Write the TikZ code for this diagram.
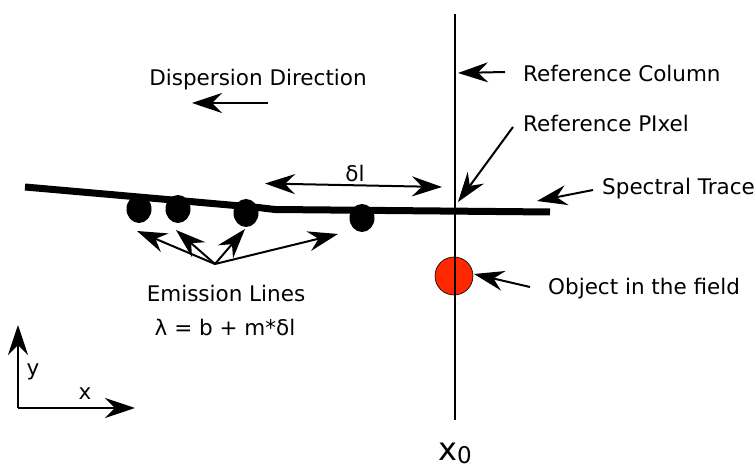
\documentclass[tikz,border=0pt]{standalone}
\usepackage{fontspec}
\setmainfont{DejaVu Sans}
\usetikzlibrary{arrows.meta}
\definecolor{objred}{RGB}{255,40,0}
\begin{document}
\begin{tikzpicture}[x=1pt,y=-1pt,
  lbl/.style={font=\fontsize{21.5}{25}\selectfont, inner sep=0pt},
  tip/.tip={Stealth[length=30pt,width=20pt,inset=10pt]},
  arr/.style={line width=2pt, -tip},
  darr/.style={line width=2pt, tip-tip},
  thin line/.style={line width=2pt}]
\useasboundingbox (0,0) rectangle (756,470);

% coordinates
\coordinate (ctop) at (455,14);
\coordinate (cbot) at (455,420);
\coordinate (t0) at (25,187);
\coordinate (t1) at (258,207.5);
\coordinate (t2) at (275,209.5);
\coordinate (t3) at (550,212);

% object in the field
\filldraw[fill=objred, draw=black, line width=0.6pt] (454,276) circle (19);

% reference column
\draw[thin line] (ctop) -- (cbot);

% spectral trace
\draw[line width=7pt] (t0) -- (t1) -- (t2) -- (t3);

% emission line dots
\fill (139,209) ellipse (12.5 and 14);
\fill (178,209) ellipse (12.5 and 14);
\fill (246,213) ellipse (12.5 and 14);
\fill (362,218) ellipse (12.5 and 14);

% labels
\node[lbl] (disp) at (258,80) {Dispersion Direction};
\node[lbl, anchor=west] (refcol) at (523,73) {Reference Column};
\node[lbl, anchor=west] (refpix) at (523,123) {Reference PIxel};
\node[lbl, anchor=west] (spec) at (602,189) {Spectral Trace};
\node[lbl, anchor=west] (objl) at (548,289) {Object in the field};
\node[lbl] (dl) at (355,173) {δl};
\node[lbl] (em) at (226,293) {Emission Lines};
\node[lbl] (lam) at (225,327) {λ = b + m*δl};
\node[lbl] (ylab) at (33,372) {y};
\node[lbl] (xlab) at (85,394) {x};
\node[inner sep=0pt, anchor=base west] (x0) at (438,461) {{\fontsize{32}{34}\selectfont x}{\fontsize{23}{26}\selectfont\raisebox{-2.5pt}{0}}};

% dispersion arrow
\coordinate (dtail) at (268,103);
\coordinate (dtip) at (192,103);
\draw[arr] (dtail) -- (dtip);

% delta l
\coordinate (dla) at (265,183.5);
\coordinate (dlb) at (442,187);
\draw[darr] (dla) -- (dlb);

% reference column arrow
\coordinate (rca) at (505,72);
\coordinate (rcb) at (458,73);
\draw[arr] (rca) -- (rcb);

% reference pixel arrow
\coordinate (rpa) at (513,127);
\coordinate (rpb) at (458,202);
\draw[arr] (rpa) -- (rpb);

% spectral trace arrow
\coordinate (sta) at (593,190);
\coordinate (stb) at (537,201);
\draw[arr] (sta) -- (stb);

% object arrow
\coordinate (oa) at (530,287);
\coordinate (ob) at (474,274);
\draw[arr] (oa) -- (ob);

% emission arrows
\coordinate (hub) at (215,264);
\coordinate (e1) at (137,231);
\coordinate (e2) at (176,230);
\coordinate (e3) at (245,229);
\coordinate (e4) at (338,234);
\foreach \e in {e1,e2,e3,e4} \draw[arr] (hub) -- (\e);

% axes
\coordinate (ax0) at (18,408);
\coordinate (axy) at (18,325);
\coordinate (axx) at (135,408);
\draw[arr] (ax0) -- (axy);
\draw[arr] (ax0) -- (axx);
\end{tikzpicture}
\end{document}
